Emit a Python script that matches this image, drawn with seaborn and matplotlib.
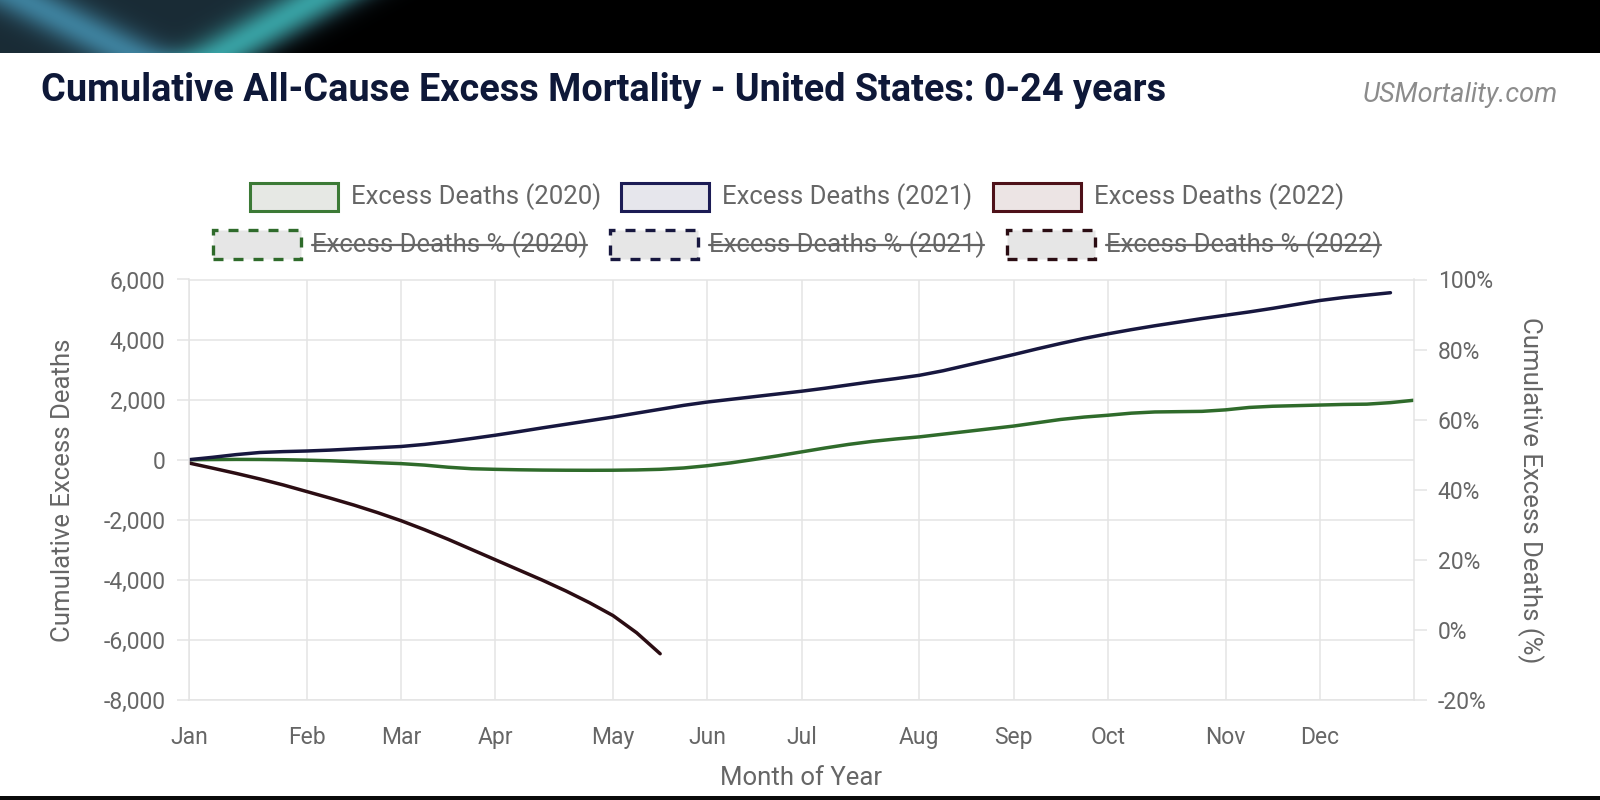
import numpy as np
import pandas as pd
import matplotlib
matplotlib.use("Agg")
import matplotlib.pyplot as plt
from matplotlib.patches import Rectangle
from matplotlib.lines import Line2D
from matplotlib.ticker import FuncFormatter
import seaborn as sns

# ---------------- data ----------------
month_labels = ["Jan", "Feb", "Mar", "Apr", "May", "Jun",
                "Jul", "Aug", "Sep", "Oct", "Nov", "Dec"]
month_week = [0, 5, 9, 13, 18, 22, 26, 31, 35, 39, 44, 48]

excess_2020 = [0, 5, 10, 8, 0, -15, -35, -65, -100, -130, -180, -250, -300,
               -320, -335, -345, -350, -352, -350, -340, -320, -275, -200,
               -105, 10, 130, 260, 390, 510, 610, 690, 760, 850, 940, 1030,
               1120, 1230, 1340, 1420, 1480, 1550, 1590, 1600, 1610, 1660,
               1740, 1780, 1800, 1820, 1840, 1850, 1900, 1980]
excess_2021 = [0, 80, 170, 240, 270, 290, 320, 360, 400, 440, 510, 600, 705,
               815, 935, 1060, 1180, 1300, 1420, 1550, 1680, 1810, 1920,
               2010, 2100, 2190, 2280, 2380, 2490, 2600, 2700, 2810, 2960,
               3140, 3320, 3500, 3690, 3870, 4040, 4190, 4330, 4460, 4580,
               4700, 4810, 4920, 5040, 5170, 5300, 5400, 5480, 5560]
excess_2022 = [-110, -280, -455, -640, -840, -1060, -1280, -1510, -1760,
               -2030, -2330, -2650, -2990, -3330, -3670, -4010, -4370,
               -4760, -5190, -5760, -6460]

years = ["2020", "2021", "2022"]
series = [excess_2020, excess_2021, excess_2022]
line_colors = {"2020": "#2f6b2b", "2021": "#17173f", "2022": "#2b0d13"}
legend_edge = {"2020": "#3c7a36", "2021": "#1c1c55", "2022": "#4e1119"}
legend_fill = {"2020": "#e6e8e4", "2021": "#e6e6ec", "2022": "#ece4e4"}

left_ticks = [-8000, -6000, -4000, -2000, 0, 2000, 4000, 6000]
right_ticks = [-20, 0, 20, 40, 60, 80, 100]

title = "Cumulative All-Cause Excess Mortality - United States: 0-24 years"
site = "USMortality.com"
legend_main = ["Excess Deaths (2020)", "Excess Deaths (2021)", "Excess Deaths (2022)"]
legend_pct = ["Excess Deaths % (2020)", "Excess Deaths % (2021)", "Excess Deaths % (2022)"]

df = pd.concat(
    [pd.DataFrame({"week": np.arange(len(v)), "excess": v, "year": y})
     for y, v in zip(years, series)],
    ignore_index=True,
)

# ---------------- style ----------------
sns.set_theme(style="white")
plt.rcParams["font.family"] = ["Roboto", "DejaVu Sans"]

W, H = 1600, 800
fig = plt.figure(figsize=(16, 8), dpi=100)
fig.patch.set_facecolor("white")

def fx(px):
    return px / W

def fy(py):
    return 1 - py / H

# top banner (screen-capture frame)
BH = 53
bax = fig.add_axes([0, fy(BH), 1, BH / H])
bax.set_axis_off()
xx, yy = np.meshgrid(np.arange(W, dtype=float), np.arange(BH, dtype=float))
t = yy / BH
edge = 368 - 95 * t
mask = 1.0 / (1.0 + np.exp((xx - edge) / 12.0))
base = np.array([0.10, 0.17, 0.21])
bandA = np.exp(-((xx - (25 + 105 * t)) / 45.0) ** 2)
bandB = np.exp(-((xx - (315 - 95 * t)) / 42.0) ** 2)
colA = np.array([0.24, 0.50, 0.61])
colB = np.array([0.22, 0.63, 0.64])
img = (base[None, None, :] * (1 - np.clip(bandA + bandB, 0, 1))[..., None]
       + bandA[..., None] * colA + bandB[..., None] * colB)
img = np.clip(img * mask[..., None], 0, 1)
bax.imshow(img, aspect="auto", extent=[0, W, BH, 0])
fig.patches.append(Rectangle((0, 0), 1, fy(796), transform=fig.transFigure,
                             facecolor="#0a0a0a", edgecolor="none"))

# ---------------- main axes ----------------
ax = fig.add_axes([fx(189), fy(700), fx(1414) - fx(189), fy(279.5) - fy(700)])
sns.lineplot(data=df, x="week", y="excess", hue="year", palette=line_colors,
             linewidth=2.5, legend=False, errorbar=None, ax=ax)

grid_c = "#e4e4e4"
label_c = "#666666"
ax.set_xlim(0, 52)
ax.set_ylim(-8000, 6000)
ax.set_xticks(month_week)
ax.set_xticklabels(month_labels)
ax.set_yticks(left_ticks)
ax.yaxis.set_major_formatter(FuncFormatter(lambda v, p: f"{int(v):,}"))
ax.grid(True, color=grid_c, linewidth=1.1)
for s in ax.spines.values():
    s.set_color(grid_c)
    s.set_linewidth(1.1)
ax.tick_params(axis="both", colors=grid_c, labelcolor=label_c, labelsize=16.5,
               length=9, width=1.1)
ax.tick_params(axis="x", pad=10)
ax.tick_params(axis="y", pad=8)
ax.set_xlabel("Month of Year", fontsize=18.5, color=label_c)
ax.xaxis.set_label_coords(0.5, -0.157)
ax.set_ylabel("Cumulative Excess Deaths", fontsize=18.5, color=label_c)
ax.yaxis.set_label_coords(-0.103, 0.5)
ax.yaxis.label.set_va("center")

ax2 = ax.twinx()
ax2.set_ylim(-20, 100)
ax2.set_yticks(right_ticks)
ax2.yaxis.set_major_formatter(FuncFormatter(lambda v, p: f"{int(v)}%"))
ax2.grid(False)
for s in ax2.spines.values():
    s.set_visible(False)
ax2.tick_params(axis="y", colors=grid_c, labelcolor=label_c, labelsize=16.5,
                length=9, width=1.1, pad=8)
ax2.set_ylabel("Cumulative Excess Deaths (%)", fontsize=18.5, color=label_c,
               rotation=270)
ax2.yaxis.set_label_coords(1.095, 0.5)
ax2.yaxis.label.set_va("center")

# ---------------- titles ----------------
fig.text(fx(41), fy(101), title, fontsize=27.3, fontweight="bold",
         color="#0e1838", ha="left", va="baseline")
fig.text(fx(1558), fy(102), site, fontsize=19.5, fontstyle="italic",
         color="#8c8c8c", ha="right", va="baseline")

# ---------------- legend ----------------
row1_box_x = [250, 621, 993]
row2_box_x = [213, 610, 1007]
box_w = 88
strike_texts = []
for i, y in enumerate(years):
    x0 = row1_box_x[i]
    fig.patches.append(Rectangle((fx(x0), fy(211)), fx(box_w), fy(183) - fy(211),
                                 transform=fig.transFigure, facecolor=legend_fill[y],
                                 edgecolor=legend_edge[y], linewidth=2.2))
    fig.text(fx(x0 + box_w + 13), fy(197), legend_main[i], fontsize=18.5,
             color=label_c, ha="left", va="center")
    x1 = row2_box_x[i]
    fig.patches.append(Rectangle((fx(x1), fy(259)), fx(box_w), fy(230) - fy(259),
                                 transform=fig.transFigure, facecolor="#e6e6e6",
                                 edgecolor=line_colors[y], linewidth=2.4,
                                 linestyle=(0, (3, 3))))
    tt = fig.text(fx(x1 + box_w + 11), fy(245), legend_pct[i], fontsize=18.5,
                  color=label_c, ha="left", va="center")
    strike_texts.append(tt)

fig.canvas.draw()
renderer = fig.canvas.get_renderer()
for tt in strike_texts:
    bb = tt.get_window_extent(renderer)
    ymid = (bb.y0 + bb.y1) / 2
    fig.lines.append(Line2D([bb.x0 / W, bb.x1 / W], [ymid / H, ymid / H],
                            transform=fig.transFigure, color=label_c, linewidth=1.6))

fig.savefig("out.png", dpi=100, facecolor="white")
